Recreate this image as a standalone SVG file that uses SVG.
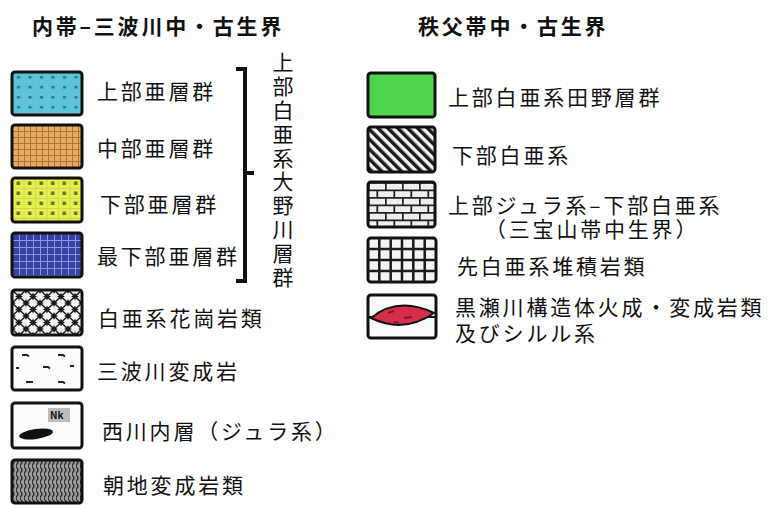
<svg xmlns="http://www.w3.org/2000/svg" width="775" height="505" viewBox="0 0 775 505">
<style>
text{font-family:"Noto Sans CJK JP","Noto Sans CJK SC",sans-serif;font-size:21px;fill:#111;letter-spacing:2.8px}
.h{font-weight:bold;font-size:21px}
.box{stroke:#111;stroke-width:3;rx:3}
.br{fill:none;stroke:#111;stroke-width:4}
</style>
<defs>
<pattern id="pCyan" width="11.5" height="10" patternUnits="userSpaceOnUse" x="12" y="72">
<rect width="11.5" height="10" fill="#56c6d8"/>
<path d="M0,0.5H11.5M0.5,0V10" stroke="#7fb8c8" stroke-width="0.8"/>
<rect x="5" y="4" width="3" height="2.5" fill="#3a6f8c"/>
</pattern>
<pattern id="pOrange" width="6" height="6" patternUnits="userSpaceOnUse" x="12" y="125">
<rect width="6" height="6" fill="#e9ac5e"/>
<path d="M0,0.5H6M0.5,0V6" stroke="#a8733c" stroke-width="1"/>
</pattern>
<pattern id="pYellow" width="11.5" height="10" patternUnits="userSpaceOnUse" x="12" y="178">
<rect width="11.5" height="10" fill="#e6f24a"/>
<path d="M0,0.5H11.5M0.5,0V10" stroke="#c8d060" stroke-width="0.8"/>
<rect x="4.5" y="3.5" width="3.5" height="3.5" fill="#6b6e2a"/>
</pattern>
<pattern id="pBlue" width="7" height="7" patternUnits="userSpaceOnUse" x="12" y="233">
<rect width="7" height="7" fill="#3442a4"/>
<path d="M0,0.5H7M0.5,0V7" stroke="#8a98e0" stroke-width="1"/>
</pattern>
<pattern id="pGranite" width="14" height="13" patternUnits="userSpaceOnUse" x="12" y="290">
<rect width="14" height="13" fill="#f6f6f6"/>
<path d="M0,0L14,13M14,0L0,13" stroke="#222" stroke-width="1.6"/>
<g fill="#1a1a1a">
<path d="M7,2.5L8.3,5.2L11,6.5L8.3,7.8L7,10.5L5.7,7.8L3,6.5L5.7,5.2Z"/>
<path d="M0,-4L1.3,-1.3L4,0L1.3,1.3L0,4L-1.3,1.3L-4,0L-1.3,-1.3Z"/>
<path d="M14,-4L15.3,-1.3L18,0L15.3,1.3L14,4L12.7,1.3L10,0L12.7,-1.3Z"/>
<path d="M0,9L1.3,11.7L4,13L1.3,14.3L0,17L-1.3,14.3L-4,13L-1.3,11.7Z"/>
<path d="M14,9L15.3,11.7L18,13L15.3,14.3L14,17L12.7,14.3L10,13L12.7,11.7Z"/>
</g>
</pattern>
<pattern id="pAsaji" width="4" height="8" patternUnits="userSpaceOnUse" x="12" y="460">
<rect width="4" height="8" fill="#9a9a9a"/>
<path d="M1,0Q3,2 1,4Q-1,6 1,8" fill="none" stroke="#2a2a2a" stroke-width="1.3"/>
</pattern>
<pattern id="pStripe" width="7" height="7" patternUnits="userSpaceOnUse" patternTransform="rotate(-45)">
<rect width="7" height="7" fill="#f2f2f2"/>
<rect width="3.5" height="7" fill="#1a1a1a"/>
</pattern>
<pattern id="pBrick" width="17" height="15" patternUnits="userSpaceOnUse" x="368" y="182">
<rect width="17" height="15" fill="#eeeeee"/>
<path d="M0,0.8H17M0,8.3H17M0.8,0.8V8.3M9.3,8.3V15" stroke="#222" stroke-width="1.8"/>
</pattern>
</defs>

<g id="header-left"><text class="h" x="32" y="34">内帯–三波川中・古生界</text></g>
<g id="header-right"><text class="h" x="418" y="34">秩父帯中・古生界</text></g>

<g id="n-jobu-asou">
<rect class="box" x="12" y="72" width="70" height="43" fill="url(#pCyan)"/>
<text x="97" y="99">上部亜層群</text>
</g>
<g id="n-chubu-asou">
<rect class="box" x="12" y="125" width="70" height="43" fill="url(#pOrange)"/>
<text x="97" y="156">中部亜層群</text>
</g>
<g id="n-kabu-asou">
<rect class="box" x="12" y="178" width="70" height="44" fill="url(#pYellow)"/>
<text x="100" y="212">下部亜層群</text>
</g>
<g id="n-saika-asou">
<rect class="box" x="12" y="233" width="70" height="44" fill="url(#pBlue)"/>
<text x="97" y="264">最下部亜層群</text>
</g>

<g id="n-ono-bracket">
<path class="br" d="M236,69H245V281H236M245,173H254"/>
<text x="283" y="52" style="writing-mode:vertical-rl" letter-spacing="3">上部白亜系大野川層群</text>
</g>

<g id="n-granite">
<rect x="12" y="290" width="70" height="45" rx="3" fill="url(#pGranite)"/>
<rect class="box" x="12" y="290" width="70" height="45" fill="none"/>
<text x="98" y="326">白亜系花崗岩類</text>
</g>
<g id="n-sanbagawa">
<rect class="box" x="12" y="347" width="70" height="43" fill="#fbfbfb"/>
<g fill="none" stroke="#222" stroke-width="2">
<path d="M22,355h5l2,1.5M58,355h5l2,1.5M16,368h3M43,367h5l2,1.5M70,366h4M26,382h7M58,382h5l2,1.5"/>
</g>
<text x="97" y="379">三波川変成岩</text>
</g>
<g id="n-nishikawachi">
<rect class="box" x="12" y="403" width="70" height="45" fill="#fbfbfb"/>
<rect x="48" y="408" width="22" height="14" fill="#bcbcbc"/>
<text x="50" y="419" style="font-size:10px;font-weight:bold;letter-spacing:0">Nk</text>
<ellipse cx="36" cy="434" rx="17" ry="5" transform="rotate(-8 36 434)" fill="#111"/>
<text x="102" y="439" letter-spacing="2.2">西川内層（ジュラ系）</text>
</g>
<g id="n-asaji">
<rect class="box" x="12" y="460" width="70" height="43" fill="url(#pAsaji)"/>
<text x="103" y="493">朝地変成岩類</text>
</g>

<g id="n-tano">
<rect class="box" x="368" y="73" width="67" height="44" fill="#4fd44f"/>
<text x="448" y="105">上部白亜系田野層群</text>
</g>
<g id="n-kabu-hakua">
<rect class="box" x="368" y="127" width="67" height="45" fill="url(#pStripe)"/>
<text x="452" y="163">下部白亜系</text>
</g>
<g id="n-sanbosan">
<rect class="box" x="368" y="182" width="67" height="45" fill="url(#pBrick)"/>
<text x="448" y="213">上部ジュラ系–下部白亜系<tspan x="485" y="237">（三宝山帯中生界）</tspan></text>
</g>
<g id="n-sen-hakua">
<rect class="box" x="368" y="238" width="68" height="44" fill="#f4f4f4"/>
<path d="M379.3,238V282M390.7,238V282M402,238V282M413.3,238V282M424.7,238V282M368,249H436M368,260H436M368,271H436" stroke="#1a1a1a" stroke-width="2.5"/>
<text x="457" y="274">先白亜系堆積岩類</text>
</g>
<g id="n-kurosegawa">
<rect class="box" x="368" y="295" width="68" height="43" fill="#fbfbfb"/>
<path d="M368,317H436" stroke="#111" stroke-width="2"/>
<path d="M371,318Q398,296 434,313Q404,334 371,318Z" fill="#d42e4a" stroke="#111" stroke-width="2"/>
<path d="M388,313l6,-2M404,318l8,-1M394,322l5,1" stroke="#8a1424" stroke-width="2"/>
<text x="455" y="315">黒瀬川構造体火成・変成岩類<tspan x="455" y="341">及びシルル系</tspan></text>
</g>
</svg>
